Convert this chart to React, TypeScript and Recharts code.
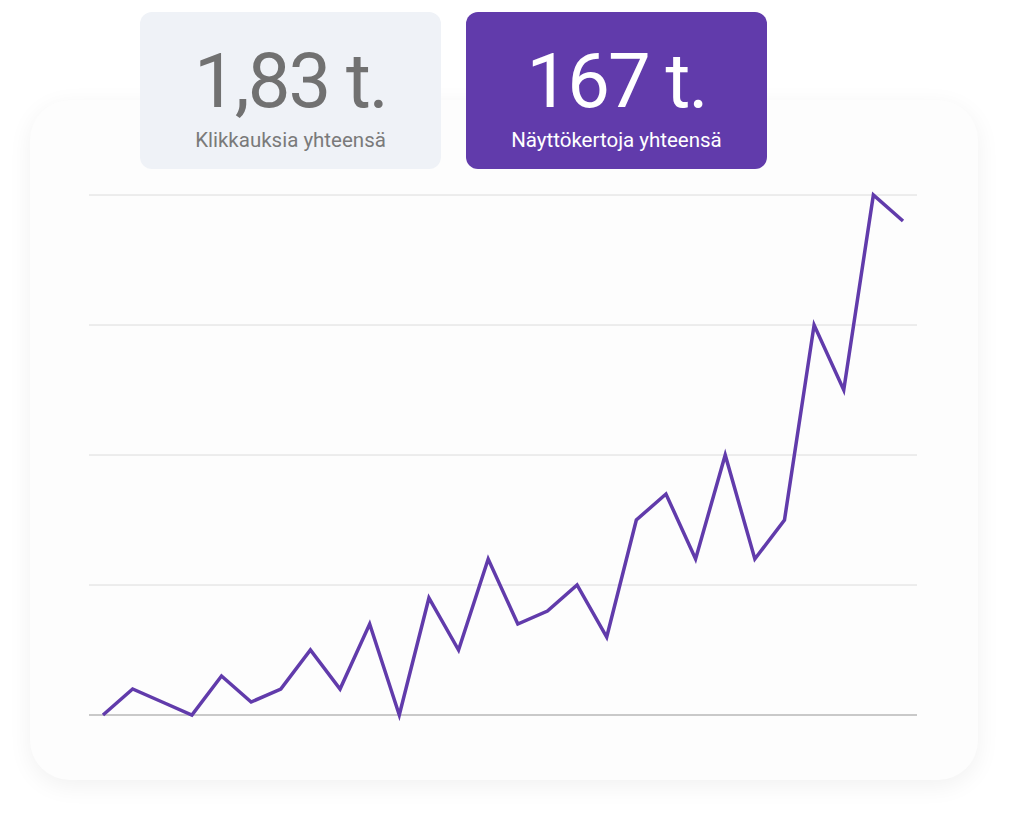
import { LineChart, Line, XAxis, YAxis, CartesianGrid, ReferenceLine } from "recharts";

const days = [
  "1", "2", "3", "4", "5", "6", "7", "8", "9", "10", "11", "12", "13", "14",
  "15", "16", "17", "18", "19", "20", "21", "22", "23", "24", "25", "26", "27", "28",
];
const impressions = [
  0, 1, 0.5, 0, 1.5, 0.5, 1, 2.5, 1, 3.5, 0, 4.5, 2.5, 6,
  3.5, 4, 5, 3, 7.5, 8.5, 6, 10, 6, 7.5, 15, 12.5, 20, 19,
];
const yTicks = [0, 5, 10, 15, 20];

const data = days.map((d, i) => ({ day: d, value: impressions[i] }));

const PURPLE = "#613bab";
const FONT = "Roboto, 'Noto Sans', sans-serif";

function StatBox({
  left,
  value,
  label,
  active,
}: {
  left: number;
  value: string;
  label: string;
  active?: boolean;
}) {
  return (
    <div
      style={{
        position: "absolute",
        left,
        top: 12,
        width: 301,
        height: 157,
        borderRadius: 12,
        background: active ? PURPLE : "#eff2f7",
        color: active ? "#ffffff" : "#717171",
        fontFamily: FONT,
        textAlign: "center",
      }}
    >
      <div
        style={{
          position: "absolute",
          top: 29,
          width: "100%",
          fontSize: 76,
          lineHeight: "80px",
          fontWeight: 400,
          letterSpacing: -2,
        }}
      >
        {value}
      </div>
      <div
        style={{
          position: "absolute",
          top: 115,
          width: "100%",
          fontSize: 20.5,
          lineHeight: "26px",
          color: active ? "#ffffff" : "#7a7a7a",
        }}
      >
        {label}
      </div>
    </div>
  );
}

export default function App() {
  return (
    <div
      style={{
        position: "absolute",
        left: 0,
        top: 0,
        width: 1024,
        height: 826,
        background: "#ffffff",
        overflow: "hidden",
      }}
    >
      <div
        style={{
          position: "absolute",
          left: 30,
          top: 100,
          width: 948,
          height: 680,
          borderRadius: 40,
          background: "#fdfdfd",
          boxShadow: "0 6px 24px rgba(0,0,0,0.06)",
        }}
      />
      <div style={{ position: "absolute", left: 0, top: 0 }}>
        <LineChart
          width={1024}
          height={826}
          data={data}
          margin={{ top: 195, right: 107, bottom: 111, left: 89 }}
        >
          <CartesianGrid vertical={false} stroke="#dcdcdc" strokeWidth={1} />
          <XAxis
            dataKey="day"
            height={0}
            tick={false}
            tickLine={false}
            axisLine={false}
            padding={{ left: 14, right: 14 }}
          />
          <YAxis hide width={0} domain={[0, 20]} ticks={yTicks} />
          <ReferenceLine y={0} stroke="#a6a6a6" strokeWidth={1.2} />
          <Line
            type="linear"
            dataKey="value"
            stroke={PURPLE}
            strokeWidth={3.5}
            dot={false}
            isAnimationActive={false}
          />
        </LineChart>
      </div>
      <StatBox left={140} value="1,83 t." label="Klikkauksia yhteensä" />
      <StatBox left={466} value="167 t." label="Näyttökertoja yhteensä" active />
    </div>
  );
}
